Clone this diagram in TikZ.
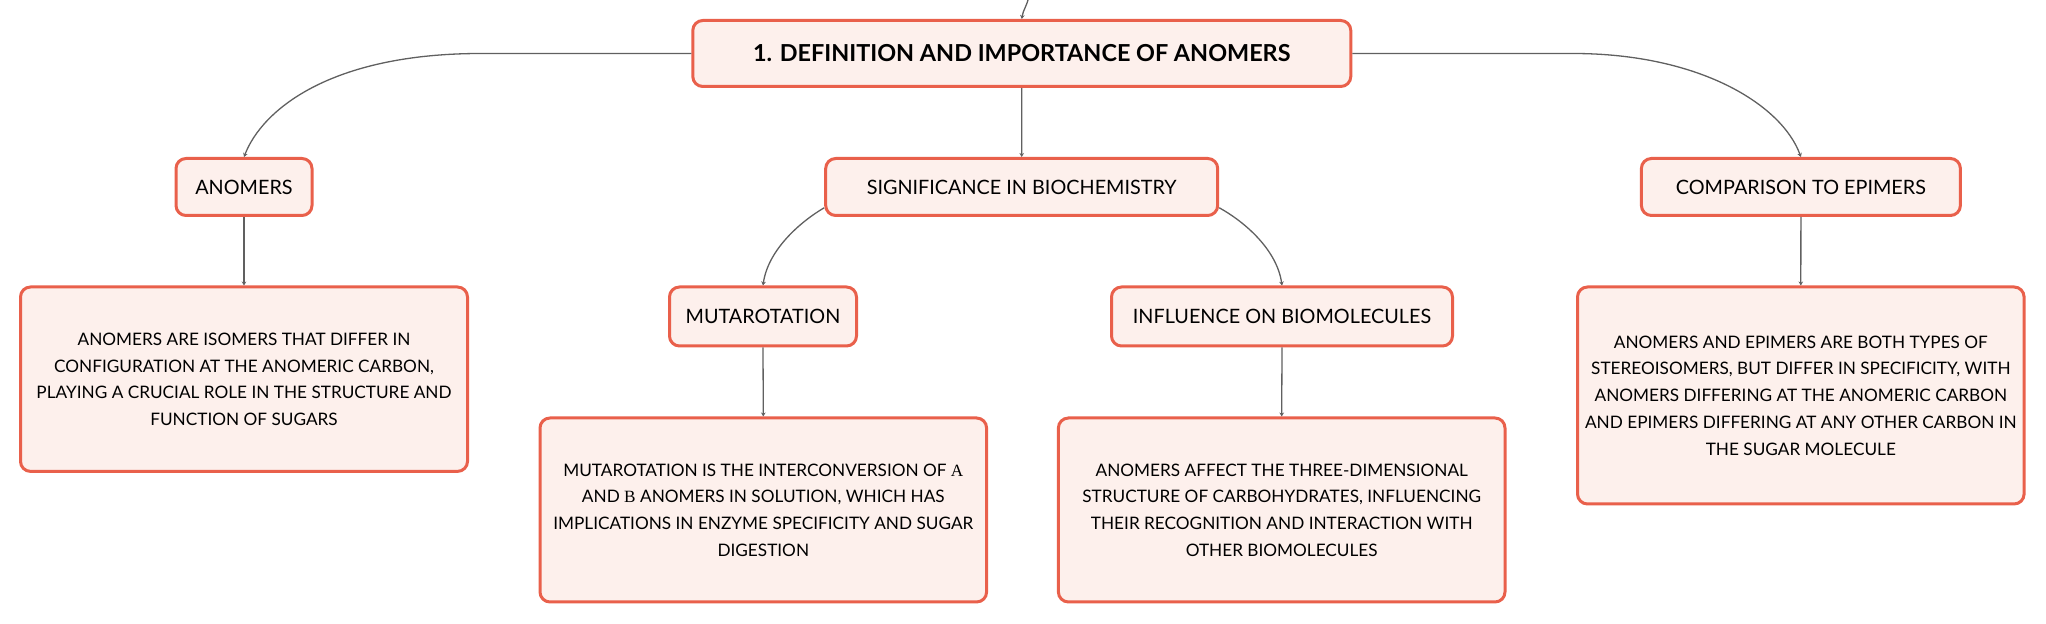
\documentclass[tikz,border=0pt]{standalone}
\usepackage{fontspec}
\setmainfont{Lato}
\newfontfamily\grk{Liberation Serif}
\usetikzlibrary{arrows.meta}
\definecolor{bordc}{HTML}{E9604B}
\definecolor{fillc}{HTML}{FDF0EC}
\definecolor{linec}{HTML}{606060}
\begin{document}
\begin{tikzpicture}[x=0.5pt,y=-0.5pt,
  box/.style={draw=bordc, fill=fillc, line width=1.5pt, rounded corners=5pt, inner sep=0pt, align=center},
  lbl/.style={box, font=\fontsize{9.9}{12}\selectfont},
  ttl/.style={box, font=\fontsize{11.7}{13}\selectfont\bfseries},
  desc/.style={box, font=\fontsize{8.6}{13.35}\selectfont},
  conn/.style={draw=linec, line width=0.65pt, -{Stealth[length=2pt,width=2.3pt]}}]
\useasboundingbox (0,0) rectangle (2046,624);
\node[ttl, minimum width=329pt, minimum height=33pt] (title) at (1021.8,53.5) {1. DEFINITION AND IMPORTANCE OF ANOMERS};
\node[lbl, minimum width=68pt, minimum height=28.5pt] (anom) at (244,187) {ANOMERS};
\node[lbl, minimum width=196pt, minimum height=28.5pt] (sig) at (1021.7,187) {SIGNIFICANCE IN BIOCHEMISTRY};
\node[lbl, minimum width=159.5pt, minimum height=28.5pt] (comp) at (1800.9,187) {COMPARISON TO EPIMERS};
\node[desc, minimum width=223.5pt, minimum height=92.2pt] (anomd) at (244,379.2) {ANOMERS ARE ISOMERS THAT DIFFER IN\\CONFIGURATION AT THE ANOMERIC CARBON,\\PLAYING A CRUCIAL ROLE IN THE STRUCTURE AND\\FUNCTION OF SUGARS};
\node[lbl, minimum width=93.5pt, minimum height=29.5pt] (mut) at (763,316.5) {MUTAROTATION};
\node[lbl, minimum width=170.5pt, minimum height=29.5pt] (infl) at (1282,316.5) {INFLUENCE ON BIOMOLECULES};
\node[desc, minimum width=223.3pt, minimum height=108.5pt] (compd) at (1800.8,395.5) {ANOMERS AND EPIMERS ARE BOTH TYPES OF\\STEREOISOMERS, BUT DIFFER IN SPECIFICITY, WITH\\ANOMERS DIFFERING AT THE ANOMERIC CARBON\\AND EPIMERS DIFFERING AT ANY OTHER CARBON IN\\THE SUGAR MOLECULE};
\node[desc, minimum width=223.3pt, minimum height=92pt] (mutd) at (763.3,510) {MUTAROTATION IS THE INTERCONVERSION OF {\grk Α}\\AND {\grk Β} ANOMERS IN SOLUTION, WHICH HAS\\IMPLICATIONS IN ENZYME SPECIFICITY AND SUGAR\\DIGESTION};
\node[desc, minimum width=223.3pt, minimum height=92pt] (infld) at (1281.7,510) {ANOMERS AFFECT THE THREE-DIMENSIONAL\\STRUCTURE OF CARBOHYDRATES, INFLUENCING\\THEIR RECOGNITION AND INTERACTION WITH\\OTHER BIOMOLECULES};
\coordinate (topin) at (1029,-4);
\coordinate (lbend) at (481,53.5);
\coordinate (rbend) at (1573,53.5);
\draw[conn] (topin) .. controls (1027,6) and (1023,10) .. (title.north);
\draw[conn] (title.west) -- (lbend) .. controls (330,53.5) and (262,110) .. (anom.north);
\draw[conn] (title.east) -- (rbend) .. controls (1700,53.5) and (1782,105) .. (comp.north);
\draw[conn] (title.south) -- (sig.north);
\draw[conn] (anom.south) -- (anomd.north);
\draw[conn] (sig.186) .. controls (800,222) and (768,250) .. (mut.north);
\draw[conn] (sig.-6) .. controls (1245,222) and (1277,250) .. (infl.north);
\draw[conn] (mut.south) -- (mutd.north);
\draw[conn] (infl.south) -- (infld.north);
\draw[conn] (comp.south) -- (compd.north);
\end{tikzpicture}
\end{document}
